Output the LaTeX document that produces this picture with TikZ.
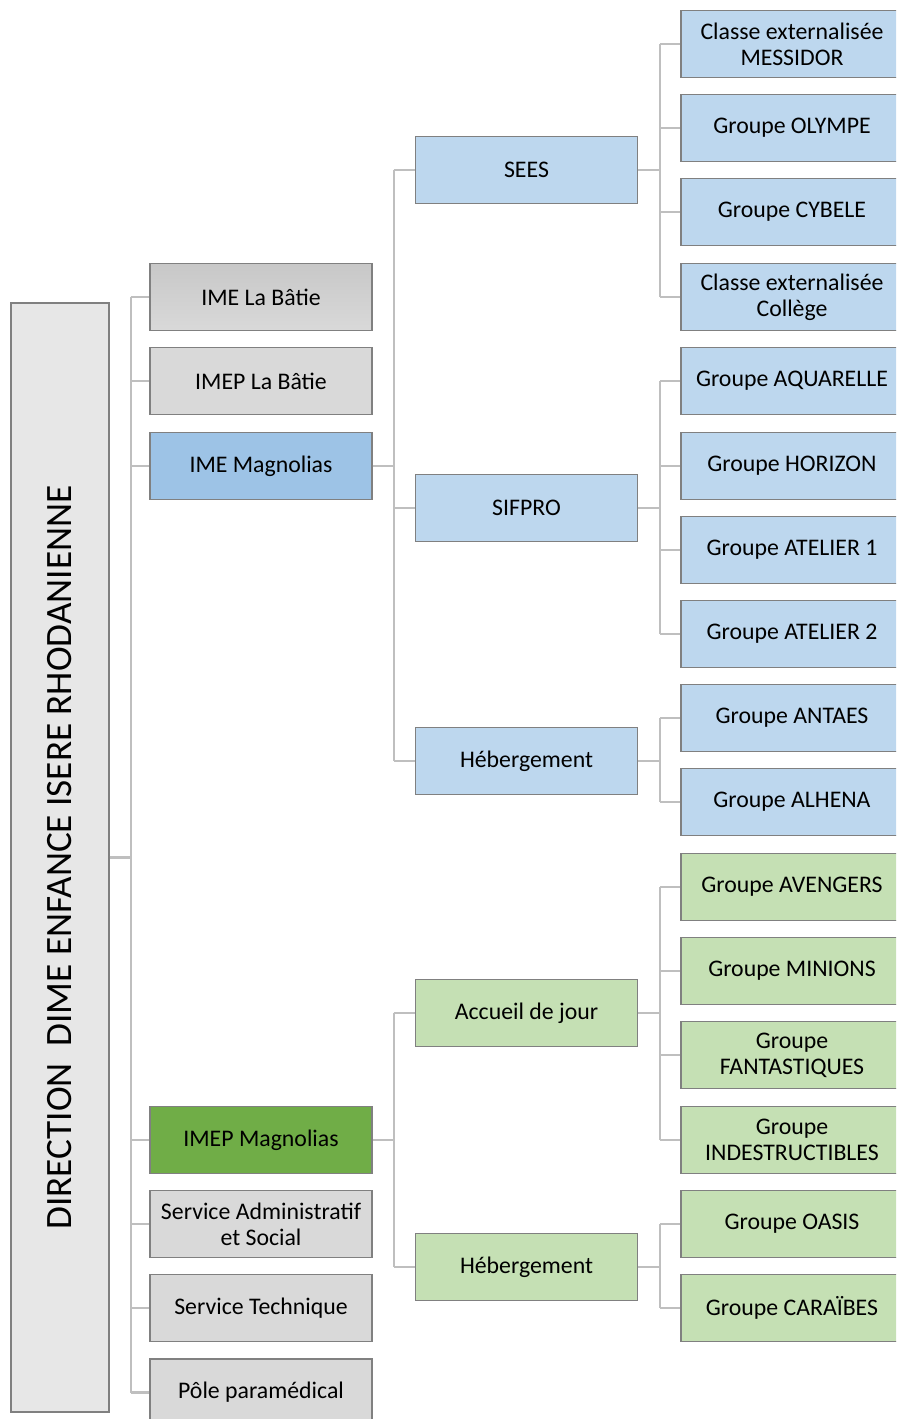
\documentclass[tikz,border=0pt]{standalone}
\usepackage{fontspec}
\setmainfont{Carlito}
\definecolor{edgegray}{HTML}{808080}
\definecolor{linkgray}{HTML}{BFBFBF}
\definecolor{rootfill}{HTML}{E7E7E7}
\definecolor{boxgray}{HTML}{D9D9D9}
\definecolor{darkblue}{HTML}{9DC3E6}
\definecolor{lightblue}{HTML}{BDD7EE}
\definecolor{darkgreen}{HTML}{70AD47}
\definecolor{lightgreen}{HTML}{C5E0B4}
\begin{document}
\begin{tikzpicture}[x=0.5pt,y=-0.5pt,
    unit/.style={draw=edgegray, line width=0.7pt, minimum width=111pt,
      minimum height=33.5pt, inner sep=1pt, align=center,
      font=\fontsize{11.9}{13}\selectfont},
    grayunit/.style={unit, fill=boxgray},
    blueunit/.style={unit, fill=lightblue},
    greenunit/.style={unit, fill=lightgreen},
    link/.style={draw=linkgray, line width=1.2pt}]

  \clip (0,0) rectangle (896,1419);
  \fill[white] (0,0) rectangle (896,1419);

  % Direction
  \node[draw=edgegray, line width=0.7pt, fill=rootfill, minimum width=49pt,
        minimum height=554.5pt, inner sep=0pt] (root) at (60,857.5) {};
  \node[rotate=90, font=\fontsize{18.6}{22}\selectfont] (rootlabel)
      at (root.center) {DIRECTION\ \ DIME ENFANCE ISERE RHODANIENNE};

  % Etablissements et services
  \node[unit, top color=boxgray!92!black, bottom color=boxgray] (bat1) at (261,297) {IME La Bâtie};
  \node[grayunit] (bat2) at (261,381) {IMEP La Bâtie};
  \node[unit, fill=darkblue] (mag1) at (261,466) {IME Magnolias};
  \node[unit, fill=darkgreen] (mag2) at (261,1140) {IMEP Magnolias};
  \node[grayunit] (admin) at (261,1224) {Service Administratif\\et Social};
  \node[grayunit] (tech) at (261,1308) {Service Technique};
  \node[grayunit] (para) at (261,1392.5) {Pôle paramédical};

  % Sections
  \node[blueunit] (sees) at (526.5,170) {SEES};
  \node[blueunit] (sifpro) at (526.5,508) {SIFPRO};
  \node[blueunit] (heb1) at (526.5,761) {Hébergement};
  \node[greenunit] (jour) at (526.5,1013) {Accueil de jour};
  \node[greenunit] (heb2) at (526.5,1267) {Hébergement};

  % Groupes
  \node[blueunit] (messidor) at (792,44) {Classe externalisée\\MESSIDOR};
  \node[blueunit] (olympe) at (792,128) {Groupe OLYMPE};
  \node[blueunit] (cybele) at (792,212) {Groupe CYBELE};
  \node[blueunit] (college) at (792,297) {Classe externalisée\\Collège};
  \node[blueunit] (aquarelle) at (792,381) {Groupe AQUARELLE};
  \node[blueunit] (horizon) at (792,466) {Groupe HORIZON};
  \node[blueunit] (atelierA) at (792,550) {Groupe ATELIER 1};
  \node[blueunit] (atelierB) at (792,634) {Groupe ATELIER 2};
  \node[blueunit] (antaes) at (792,718) {Groupe ANTAES};
  \node[blueunit] (alhena) at (792,802) {Groupe ALHENA};
  \node[greenunit] (avengers) at (792,887) {Groupe AVENGERS};
  \node[greenunit] (minions) at (792,971) {Groupe MINIONS};
  \node[greenunit] (fantast) at (792,1055) {Groupe\\FANTASTIQUES};
  \node[greenunit] (indestr) at (792,1140) {Groupe\\INDESTRUCTIBLES};
  \node[greenunit] (oasis) at (792,1224) {Groupe OASIS};
  \node[greenunit] (caraibes) at (792,1308) {Groupe CARAÏBES};

  % Liens
  \draw[link] (root.east) -- ++(21,0) coordinate (trunk);
  \draw[link] (trunk |- bat1.west) -- (trunk |- para.west);
  \foreach \c in {bat1,bat2,mag1,mag2,admin,tech,para}
    \draw[link] (trunk |- \c.west) -- (\c.west);

  \draw[link] (mag1.east) -- ++(21,0) coordinate (trunkA);
  \draw[link] (trunkA |- sees.west) -- (trunkA |- heb1.west);
  \foreach \c in {sees,sifpro,heb1}
    \draw[link] (trunkA |- \c.west) -- (\c.west);

  \draw[link] (mag2.east) -- ++(21,0) coordinate (trunkB);
  \draw[link] (trunkB |- jour.west) -- (trunkB |- heb2.west);
  \foreach \c in {jour,heb2}
    \draw[link] (trunkB |- \c.west) -- (\c.west);

  \draw[link] (sees.east) -- ++(22,0) coordinate (trunkC);
  \draw[link] (trunkC |- messidor.west) -- (trunkC |- college.west);
  \foreach \c in {messidor,olympe,cybele,college}
    \draw[link] (trunkC |- \c.west) -- (\c.west);

  \draw[link] (sifpro.east) -- ++(22,0) coordinate (trunkD);
  \draw[link] (trunkD |- aquarelle.west) -- (trunkD |- atelierB.west);
  \foreach \c in {aquarelle,horizon,atelierA,atelierB}
    \draw[link] (trunkD |- \c.west) -- (\c.west);

  \draw[link] (heb1.east) -- ++(22,0) coordinate (trunkE);
  \draw[link] (trunkE |- antaes.west) -- (trunkE |- alhena.west);
  \foreach \c in {antaes,alhena}
    \draw[link] (trunkE |- \c.west) -- (\c.west);

  \draw[link] (jour.east) -- ++(22,0) coordinate (trunkF);
  \draw[link] (trunkF |- avengers.west) -- (trunkF |- indestr.west);
  \foreach \c in {avengers,minions,fantast,indestr}
    \draw[link] (trunkF |- \c.west) -- (\c.west);

  \draw[link] (heb2.east) -- ++(22,0) coordinate (trunkG);
  \draw[link] (trunkG |- oasis.west) -- (trunkG |- caraibes.west);
  \foreach \c in {oasis,caraibes}
    \draw[link] (trunkG |- \c.west) -- (\c.west);

\end{tikzpicture}
\end{document}
